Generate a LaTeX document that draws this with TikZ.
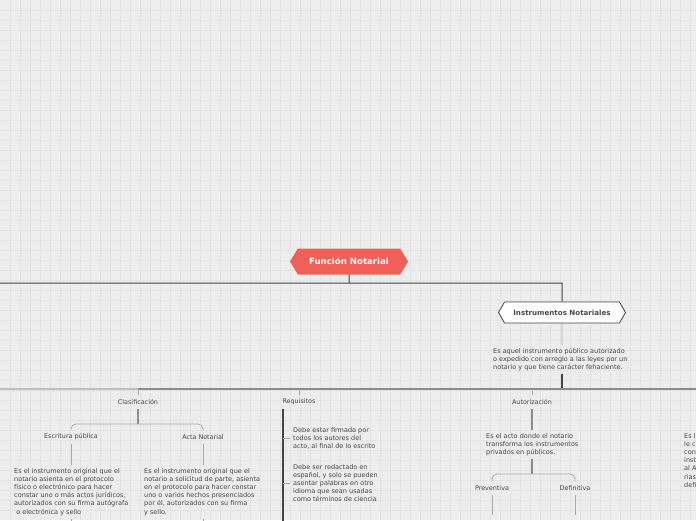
\documentclass[tikz,border=0pt]{standalone}
\usepackage{fontspec}
\setmainfont{DejaVu Sans}
\usepackage{xcolor}
\definecolor{paper}{RGB}{237,237,237}
\definecolor{gridgray}{RGB}{228,228,228}
\definecolor{titlered}{RGB}{241,96,88}
\definecolor{linedark}{RGB}{68,68,68}
\definecolor{linegray}{RGB}{140,140,140}
\definecolor{linelight}{RGB}{170,170,170}
\definecolor{barlight}{RGB}{190,190,190}
\definecolor{textgray}{RGB}{72,72,72}
\usepackage{tikz}
\usetikzlibrary{shapes.symbols,calc}

\begin{document}
\begin{tikzpicture}[x=1pt,y=-1pt,
      root/.style={signal,signal to=west and east,signal pointer angle=118,
                   fill=titlered,text=white,font=\fontsize{8.6}{10}\selectfont\bfseries,
                   minimum width=118pt,minimum height=26pt,inner sep=0pt},
      sub/.style={signal,signal to=west and east,signal pointer angle=120,
                  draw=linedark,line width=0.8pt,fill=white,text=textgray,
                  font=\fontsize{7.1}{8}\selectfont\bfseries,
                  minimum width=127pt,minimum height=21pt,inner sep=0pt},
      lbl/.style={font=\fontsize{6.4}{7}\selectfont,text=textgray,inner sep=4pt},
      txt/.style={font=\fontsize{6.5}{8.2}\selectfont,text=textgray,
                  align=left,anchor=north west,inner sep=3pt},
      dk/.style={draw=linedark,line width=1pt},
      gr/.style={draw=linegray,line width=1.4pt},
      lt/.style={draw=linelight,line width=0.8pt}]
      \useasboundingbox (0,0) rectangle (696,520);
      \fill[paper] (0,0) rectangle (696,520);
      \foreach \gx in {10,20,...,690} \draw[gridgray,line width=0.5pt] (\gx,0) -- (\gx,520);
      \foreach \gy in {10,20,...,510} \draw[gridgray,line width=0.5pt] (0,\gy) -- (696,\gy);

      \node[root] (fn) at (349,261.5) {Función Notarial};
      \node[sub] (inst) at (562,312.5) {Instrumentos Notariales};
      \node[txt] (instdef) at (490,345) {Es aquel instrumento público autorizado\\
        o expedido con arreglo a las leyes por un\\notario y que tiene carácter fehaciente.};

      \coordinate (j0) at (349,283);
      \coordinate (w0) at (0,283);
      \coordinate (e0) at (562,283);
      \coordinate (bw) at (0,389);
      \coordinate (bc) at (138,389);
      \coordinate (b0) at (562,389);
      \coordinate (be) at (696,389);
      \coordinate (bot) at (0,530);
      \coordinate (cut) at (0,515);

      \draw[dk] (fn) -- (j0);
      \draw[dk] (w0) -- (e0) -- (inst);
      \draw[lt] (inst) -- (inst |- instdef.north);
      \draw[dk,line width=1.4pt] (b0 |- instdef.south) -- (b0);
      \draw[draw=barlight,line width=1.4pt] (bw) -- (bc);
      \draw[gr] (bc) -- (be);

      \node[lbl] (cls) at (138,402) {Clasificación};
      \node[lbl] (req) at (299,402) {Requisitos};
      \node[lbl] (aut) at (532,402) {Autorización};
      \draw[lt] (bc) -- (cls);
      \draw[lt] (req |- bc) -- (req);
      \draw[lt] (aut |- bc) -- (aut);

      \node[lbl] (esc) at (71,437) {Escritura pública};
      \node[lbl] (act) at (203,437) {Acta Notarial};
      \coordinate (k1) at (138,424);
      \draw[gr] (cls) -- (k1);
      \draw[lt,rounded corners=5pt] (esc.north) |- (k1) -| (act.north);
      \node[txt] (escdef) at (11,465) {Es el instrumento original que el\\
        notario asienta en el protocolo\\físico o electrónico para hacer\\
        constar uno o más actos jurídicos,\\autorizados con su firma autógrafa\\
        \ o electrónica y sello};
      \node[txt] (actdef) at (141,465) {Es el instrumento original que el\\
        notario a solicitud de parte, asienta\\en el protocolo para hacer constar\\
        uno o varios hechos presenciados\\por él, autorizados con su firma\\y sello.};
      \draw[lt] (esc) -- (esc |- escdef.north);
      \draw[lt] (act) -- (act |- actdef.north);
      \draw[lt] (esc |- escdef.south) -- (esc |- bot);
      \draw[lt] (act |- actdef.south) -- (act |- bot);

      \coordinate (rtop) at (283,409);
      \coordinate (rbot) at (283,530);
      \draw[dk,line width=1.6pt] (rtop) -- (rbot);
      \node[txt] (r1) at (290,424) {Debe estar firmada por\\todos los autores del\\
        acto, al final de lo escrito};
      \node[txt] (r2) at (290,461) {Debe ser redactado en\\español, y solo se pueden\\
        asentar palabras en otro\\idioma que sean usadas\\como términos de ciencia};
      \draw[lt] (rtop |- r1.west) -- (r1.west);
      \draw[lt] (rtop |- r2.west) -- (r2.west);

      \node[txt] (autdef) at (483,430) {Es el acto donde el notario\\
        transforma los instrumentos\\privados en públicos.};
      \coordinate (k2) at (532,474);
      \draw[gr] (aut) -- (aut |- autdef.north);
      \draw[gr] (aut |- autdef.south) -- (k2);
      \node[lbl] (pre) at (492,488) {Preventiva};
      \node[lbl] (dfn) at (575,488) {Definitiva};
      \draw[lt,rounded corners=5pt] (pre.north) |- (k2) -| (dfn.north);
      \draw[lt] (pre) -- (pre |- cut);
      \draw[lt] (dfn) -- (dfn |- cut);

      \node[txt] (edge) at (681,430) {Es l\\le c\\conc\\inst\\al A\\rias\\defi};
    \end{tikzpicture}
\end{document}
